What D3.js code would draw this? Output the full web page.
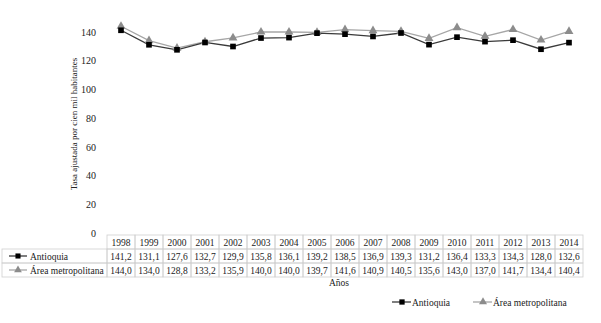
<!DOCTYPE html>
<html>
<head>
<meta charset="utf-8">
<script src="https://cdn.jsdelivr.net/npm/d3@7"></script>
</head>
<body style="margin:0;background:#fff">
<svg id="chart" width="601" height="323" font-family="Liberation Serif, serif"></svg>
<script>
var years = ["1998","1999","2000","2001","2002","2003","2004","2005","2006","2007","2008","2009","2010","2011","2012","2013","2014"];
var antioquia = [141.2,131.1,127.6,132.7,129.9,135.8,136.1,139.2,138.5,136.9,139.3,131.2,136.4,133.3,134.3,128.0,132.6];
var areaMetro = [144.0,134.0,128.8,133.2,135.9,140.0,140.0,139.7,141.6,140.9,140.5,135.6,143.0,137.0,141.7,134.4,140.4];
var yTicks = [0,20,40,60,80,100,120,140];

var series = [
  {name: "Antioquia", values: antioquia, line: "#3a3a3a", fill: "#000", shape: d3.symbolSquare},
  {name: "Área metropolitana", values: areaMetro, line: "#a6a6a6", fill: "#8c8c8c", shape: d3.symbolTriangle}
];

var svg = d3.select("#chart");
var fontSerif = "'Liberation Serif'";

// plot area (table columns line up with band scale)
var x = d3.scaleBand().domain(years).range([107, 583]).padding(0);
var y = d3.scaleLinear().domain([0, 140]).range([233, 32]);

// y axis labels only, no line
var yAxis = svg.append("g").attr("transform", "translate(99,0)")
  .call(d3.axisLeft(y).tickValues(yTicks).tickSize(0).tickPadding(3));
yAxis.attr("font-family", null);
yAxis.select(".domain").remove();
yAxis.selectAll("text").style("font-size", "10px");

svg.append("text")
  .attr("transform", "translate(77,124) rotate(-90)")
  .attr("text-anchor", "middle")
  .style("font-size", "9px")
  .text("Tasa ajustada por cien mil habitantes");

// lines
var line = d3.line()
  .x(function(d, i) { return x(years[i]) + x.bandwidth() / 2; })
  .y(function(d) { return y(d); });

series.slice().reverse().forEach(function(s) {
  svg.append("path")
    .datum(s.values)
    .attr("fill", "none")
    .attr("stroke", s.line)
    .attr("stroke-width", 1.3)
    .attr("d", line);
});
series.slice().reverse().forEach(function(s) {
  svg.append("g").selectAll("path")
    .data(s.values)
    .enter().append("path")
    .attr("d", d3.symbol().type(s.shape).size(s.shape === d3.symbolSquare ? 32 : 34))
    .attr("fill", s.fill)
    .attr("transform", function(d, i) {
      return "translate(" + (x(years[i]) + x.bandwidth() / 2) + "," + y(d) + ")";
    });
});

// data table
var rowTop = 235, rowH = 14, leftX = 2;
var gridColor = "#cfcfcf";
var tbl = svg.append("g");

// header row
tbl.selectAll("rect.h")
  .data(years).enter().append("rect")
  .attr("x", function(d) { return x(d); })
  .attr("y", rowTop)
  .attr("width", x.bandwidth())
  .attr("height", rowH)
  .attr("fill", "none").attr("stroke", gridColor).attr("stroke-width", 0.8);
tbl.selectAll("text.h")
  .data(years).enter().append("text")
  .attr("x", function(d) { return x(d) + x.bandwidth() / 2; })
  .attr("y", rowTop + rowH / 2 + 3.5)
  .attr("text-anchor", "middle")
  .style("font-size", "9.5px")
  .text(function(d) { return d; });

series.forEach(function(s, r) {
  var ry = rowTop + rowH * (r + 1);
  tbl.append("rect")
    .attr("x", leftX).attr("y", ry)
    .attr("width", x.range()[0] - leftX).attr("height", rowH)
    .attr("fill", "none").attr("stroke", gridColor).attr("stroke-width", 0.8);
  // legend key inside table
  tbl.append("line")
    .attr("x1", 9).attr("x2", 27).attr("y1", ry + rowH / 2).attr("y2", ry + rowH / 2)
    .attr("stroke", s.line).attr("stroke-width", 1.3);
  tbl.append("path")
    .attr("d", d3.symbol().type(s.shape).size(26))
    .attr("fill", s.fill)
    .attr("transform", "translate(18," + (ry + rowH / 2) + ")");
  tbl.append("text")
    .attr("x", 30).attr("y", ry + rowH / 2 + 3.5)
    .style("font-size", "9.5px")
    .text(s.name);
  tbl.selectAll(null)
    .data(s.values).enter().append("rect")
    .attr("x", function(d, i) { return x(years[i]); })
    .attr("y", ry)
    .attr("width", x.bandwidth()).attr("height", rowH)
    .attr("fill", "none").attr("stroke", gridColor).attr("stroke-width", 0.8);
  tbl.selectAll(null)
    .data(s.values).enter().append("text")
    .attr("x", function(d, i) { return x(years[i]) + x.bandwidth() / 2; })
    .attr("y", ry + rowH / 2 + 3.5)
    .attr("text-anchor", "middle")
    .style("font-size", "9.5px")
    .text(function(d) { return d.toFixed(1).replace(".", ","); });
});

svg.append("text")
  .attr("x", 339).attr("y", 286)
  .attr("text-anchor", "middle")
  .style("font-size", "9.5px")
  .text("Años");

// bottom legend
var legX = [392, 473];
series.forEach(function(s, i) {
  var lg = svg.append("g").attr("transform", "translate(" + legX[i] + ",302)");
  lg.append("line").attr("x1", 0).attr("x2", 19).attr("y1", 0).attr("y2", 0)
    .attr("stroke", s.line).attr("stroke-width", 1.3);
  lg.append("path").attr("d", d3.symbol().type(s.shape).size(28)).attr("fill", s.fill)
    .attr("transform", "translate(10,0)");
  lg.append("text").attr("x", 20).attr("y", 3.5).style("font-size", "9.5px").text(s.name);
});

// serif font everywhere, set inline
svg.selectAll("text")
  .style("font-family", fontSerif)
  .style("fill", "#222");
</script>
</body>
</html>
